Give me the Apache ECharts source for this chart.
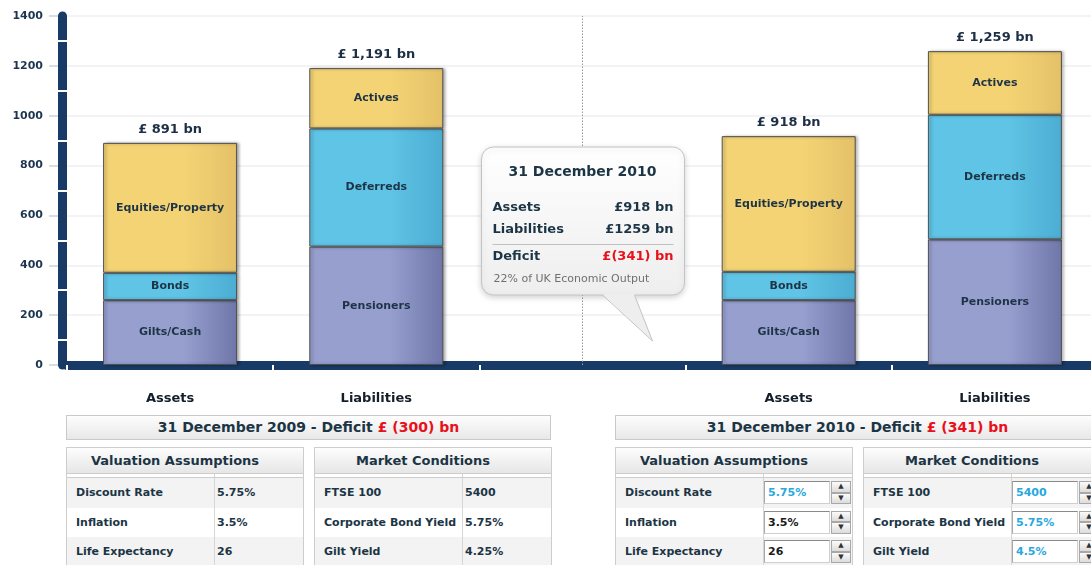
<!DOCTYPE html>
<html>
<head>
<meta charset="utf-8">
<script src="https://cdn.jsdelivr.net/npm/echarts@6/dist/echarts.min.js"></script>
<style>
body { margin: 0; width: 1091px; height: 565px; overflow: hidden; background: #fff; position: relative;
       font-family: 'DejaVu Sans', Verdana, sans-serif; color: #1c3545; }
#main { position: absolute; left: 0; top: 0; width: 1091px; height: 410px; }
.panel { position: absolute; top: 415px; width: 485px; height: 150px; }
.title { height: 25px; box-sizing: border-box; border: 1px solid #c9c9c9; background: linear-gradient(#fdfdfd, #e8e8e8);
         font-weight: bold; font-size: 14px; line-height: 23px; text-align: center; }
.red { color: #e8101a; }
.box { position: absolute; top: 32px; width: 238px; height: 130px; box-sizing: border-box; border: 1px solid #cdcdcd; background: #fff; }
.head { height: 25px; line-height: 25px; font-weight: bold; font-size: 13px; text-align: center; padding-right: 20px;
        background: linear-gradient(#fdfdfd, #e6e6e6); border-bottom: 1px solid #cdcdcd; }
.strip { height: 3px; border-bottom: 1px solid #cdcdcd; }
.strip div { width: 148px; height: 3px; box-sizing: border-box; border-right: 1px solid #d6d6d6; }
.row { display: flex; height: 29.5px; line-height: 29.5px; font-weight: bold; font-size: 11px; }
.row.odd { background: #f3f3f3; }
.lab { width: 148px; flex: none; padding-left: 9px; box-sizing: border-box; border-right: 1px solid #d6d6d6; white-space: nowrap; }
.val { padding-left: 2px; display: flex; }
.inp { width: 66px; height: 23px; margin-top: 3px; box-sizing: border-box; border: 1px solid #cfcfcf; border-top-color: #8a8a8a;
       border-left-color: #a8a8a8; background: #fff; line-height: 21px; padding-left: 3px; color: #1a1a1a; }
.inp.chg { color: #29a8e0; }
.spin { width: 20px; height: 23px; margin-top: 3px; margin-left: 1px; display: flex; flex-direction: column; }
.spin b { flex: 1; border: 1px solid #a8a8a8; background: linear-gradient(#fbfbfb, #dcdcdc); font-size: 7px; line-height: 9px;
          text-align: center; color: #333; }
</style>
</head>
<body>
<div id="main"></div>
<div class="panel" id="p0" style="left:66px"></div>
<div class="panel" id="p1" style="left:615px"></div>
<script>
var FONT = 'DejaVu Sans';

// 柱子数据
var categories = ['Assets', 'Liabilities', '', 'Assets', 'Liabilities'];
var baseNames = ['Gilts/Cash', 'Pensioners', '', 'Gilts/Cash', 'Pensioners'];
var baseValues = [260, 475, '-', 260, 504];
var midNames = ['Bonds', 'Deferreds', '', 'Bonds', 'Deferreds'];
var midValues = [110, 474, '-', 114, 500];
var topNames = ['Equities/Property', 'Actives', '', 'Equities/Property', 'Actives'];
var topValues = [521, 242, '-', 544, 255];
var totals = [891, 1191, '-', 918, 1259];

// 表格数据
var periods = ['31 December 2009', '31 December 2010'];
var assetIndex = [0, 3];
var liabIndex = [1, 4];
var valuationLabels = ['Discount Rate', 'Inflation', 'Life Expectancy'];
var valuationValues = [['5.75%', '3.5%', '26'], ['5.75%', '3.5%', '26']];
var valuationChanged = [true, false, false];
var marketLabels = ['FTSE 100', 'Corporate Bond Yield', 'Gilt Yield'];
var marketValues = [['5400', '5.75%', '4.25%'], ['5400', '5.75%', '4.5%']];
var marketChanged = [true, true, true];
var outputShare = 22;

function grad(a, b) {
    return new echarts.graphic.LinearGradient(0, 0, 1, 0, [
        { offset: 0, color: a }, { offset: 0.6, color: a }, { offset: 1, color: b }
    ]);
}

function segment(values, names, c1, c2) {
    return {
        type: 'bar',
        stack: 'total',
        barWidth: 134,
        data: values,
        itemStyle: {
            color: grad(c1, c2),
            borderColor: '#4f4f4f',
            borderWidth: 1,
            shadowBlur: 3,
            shadowOffsetX: 2,
            shadowColor: 'rgba(0,0,0,0.35)'
        },
        label: {
            show: true,
            position: 'inside',
            color: '#1e3446',
            fontWeight: 'bold',
            fontSize: 11,
            fontFamily: FONT,
            formatter: function(p) { return names[p.dataIndex]; }
        }
    };
}

var myChart = echarts.init(document.getElementById('main'));

var option = {
    animation: false,
    textStyle: { fontFamily: FONT },
    //图表超出右边界
    grid: { left: 67, top: 16, width: 1031, height: 349, outerBoundsMode: 'none' },
    xAxis: [{
        type: 'category',
        data: categories,
        position: 'bottom',
        offset: 5,
        z: 1,
        axisLine: { lineStyle: { color: '#173a66', width: 9, cap: 'round' } },
        axisTick: { show: false },
        axisLabel: { margin: 22, color: '#141e2a', fontWeight: 'bold', fontSize: 13, fontFamily: FONT }
    }, {
        // 白色分隔线
        type: 'category',
        data: categories,
        position: 'bottom',
        offset: 0,
        z: 2,
        axisLine: { show: false },
        axisTick: { show: true, length: 10, lineStyle: { color: '#fff', width: 2 } },
        axisLabel: { show: false }
    }],
    yAxis: [{
        type: 'value',
        min: 0,
        max: 1400,
        interval: 200,
        position: 'left',
        z: 0,
        axisLine: { show: false },
        axisTick: { show: true, length: 18, lineStyle: { color: '#c8d4e0', width: 1.5 } },
        axisLabel: {
            margin: 24, color: '#1d3550', fontWeight: 'bold', fontSize: 11, fontFamily: FONT,
            formatter: function(v) { return String(v); }
        },
        splitLine: { lineStyle: { color: '#eceff3', width: 1.5 } }
    }, {
        type: 'value',
        min: 0,
        max: 1400,
        interval: 200,
        position: 'left',
        offset: 4.5,
        z: 1,
        axisLine: { show: true, lineStyle: { color: '#173a66', width: 9, cap: 'round' } },
        axisTick: { show: false },
        axisLabel: { show: false },
        splitLine: { show: false }
    }, {
        type: 'value',
        min: 0,
        max: 1400,
        interval: 200,
        position: 'left',
        offset: 0,
        z: 2,
        axisLine: { show: false },
        axisTick: { show: false },
        minorTick: { show: true, splitNumber: 2, length: 10, lineStyle: { color: '#fff', width: 2 } },
        axisLabel: { show: false },
        splitLine: { show: false }
    }],
    series: [
        segment(baseValues, baseNames, '#979fcf', '#6f77aa'),
        segment(midValues, midNames, '#5fc4e6', '#4cadd2'),
        segment(topValues, topNames, '#f4d374', '#e4c168'),
        {
            // 合计标签
            type: 'bar',
            stack: 'total',
            barWidth: 134,
            data: totals.map(function(v) { return v === '-' ? '-' : 0; }),
            itemStyle: { color: 'transparent' },
            label: {
                show: true,
                position: 'top',
                distance: 7,
                color: '#1d2f44',
                fontWeight: 'bold',
                fontSize: 13,
                fontFamily: FONT,
                formatter: function(p) { return '£ ' + echarts.format.addCommas(totals[p.dataIndex]) + ' bn'; }
            },
            markLine: {
                silent: true,
                symbol: ['none', 'none'],
                label: { show: false },
                lineStyle: { color: '#9a9a9a', width: 1, type: [1.5, 1.5] },
                data: [{ xAxis: 2 }]
            }
        }
    ]
};

myChart.setOption(option);

// 提示框
var cx = myChart.convertToPixel({ xAxisIndex: 0 }, 2);
var a = totals[assetIndex[1]], l = totals[liabIndex[1]];
var boxTop = 147, boxBottom = 295;
myChart.setOption({
    graphic: [
        {
            type: 'rect', z: 100,
            shape: { x: cx - 101, y: boxTop, width: 203, height: boxBottom - boxTop, r: 12 },
            style: {
                fill: new echarts.graphic.LinearGradient(0, 0, 0, 1, [{ offset: 0, color: '#ffffff' }, { offset: 1, color: '#eeeeee' }]),
                stroke: '#c4c4c4', lineWidth: 1, shadowBlur: 6, shadowOffsetY: 2, shadowColor: 'rgba(0,0,0,0.18)'
            }
        },
        {
            type: 'polygon', z: 101,
            shape: { points: [[cx + 20, boxBottom - 1], [cx + 70, 341], [cx + 52, boxBottom - 1]] },
            style: { fill: '#eeeeee' }
        },
        {
            type: 'polyline', z: 102,
            shape: { points: [[cx + 20, boxBottom], [cx + 70, 341], [cx + 52, boxBottom]] },
            style: { stroke: '#c4c4c4', lineWidth: 1, fill: null }
        },
        { type: 'text', z: 103, x: cx, y: 172, style: { text: periods[1], font: 'bold 14px "DejaVu Sans"', fill: '#1c3545', align: 'center', verticalAlign: 'middle' } },
        { type: 'text', z: 103, x: cx - 90, y: 208, style: { text: 'Assets', font: 'bold 13px "DejaVu Sans"', fill: '#1c3545', align: 'left', verticalAlign: 'middle' } },
        { type: 'text', z: 103, x: cx + 91, y: 208, style: { text: '£' + a + ' bn', font: 'bold 13px "DejaVu Sans"', fill: '#1c3545', align: 'right', verticalAlign: 'middle' } },
        { type: 'text', z: 103, x: cx - 90, y: 230, style: { text: 'Liabilities', font: 'bold 13px "DejaVu Sans"', fill: '#1c3545', align: 'left', verticalAlign: 'middle' } },
        { type: 'text', z: 103, x: cx + 91, y: 230, style: { text: '£' + l + ' bn', font: 'bold 13px "DejaVu Sans"', fill: '#1c3545', align: 'right', verticalAlign: 'middle' } },
        { type: 'line', z: 103, shape: { x1: cx - 90, y1: 244.5, x2: cx + 91, y2: 244.5 }, style: { stroke: '#c0c0c0', lineWidth: 1 } },
        { type: 'text', z: 103, x: cx - 90, y: 257, style: { text: 'Deficit', font: 'bold 13px "DejaVu Sans"', fill: '#1c3545', align: 'left', verticalAlign: 'middle' } },
        { type: 'text', z: 103, x: cx + 91, y: 257, style: { text: '£(' + Math.abs(a - l) + ') bn', font: 'bold 13px "DejaVu Sans"', fill: '#e8101a', align: 'right', verticalAlign: 'middle' } },
        { type: 'text', z: 103, x: cx - 89, y: 279, style: { text: outputShare + '% of UK Economic Output', font: '11px "DejaVu Sans"', fill: '#707070', align: 'left', verticalAlign: 'middle' } }
    ]
});

// 下方表格
function rowsHtml(labels, values, editable, changed) {
    var h = '';
    for (var i = 0; i < labels.length; i++) {
        var v = values[i];
        if (editable) {
            v = '<div class="inp' + (changed[i] ? ' chg' : '') + '">' + v + '</div><div class="spin"><b>▲</b><b>▼</b></div>';
        }
        h += '<div class="row' + (i % 2 === 0 ? ' odd' : '') + '"><div class="lab">' + labels[i] + '</div><div class="val"' +
            (editable ? ' style="padding-left:0"' : '') + '>' + v + '</div></div>';
    }
    return h;
}

for (var k = 0; k < periods.length; k++) {
    var deficit = totals[assetIndex[k]] - totals[liabIndex[k]];
    var editable = k === 1;
    document.getElementById('p' + k).innerHTML =
        '<div class="title">' + periods[k] + ' - Deficit <span class="red">£ (' + Math.abs(deficit) + ') bn</span></div>' +
        '<div class="box" style="left:0"><div class="head">Valuation Assumptions</div><div class="strip"><div></div></div>' +
        rowsHtml(valuationLabels, valuationValues[k], editable, valuationChanged) + '</div>' +
        '<div class="box" style="left:248px"><div class="head">Market Conditions</div><div class="strip"><div></div></div>' +
        rowsHtml(marketLabels, marketValues[k], editable, marketChanged) + '</div>';
}
</script>
</body>
</html>
